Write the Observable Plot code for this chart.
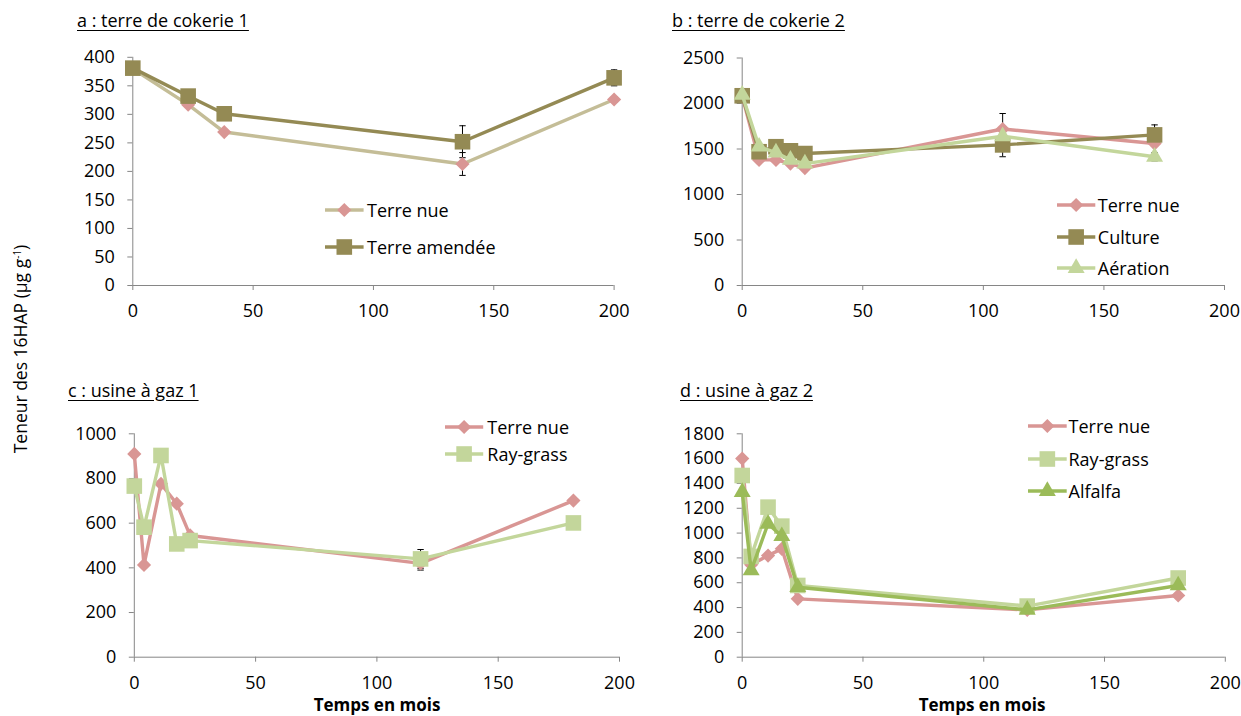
<!DOCTYPE html>
<html><head><meta charset="utf-8">
<script src="https://cdn.jsdelivr.net/npm/d3@7"></script>
<script src="https://cdn.jsdelivr.net/npm/@observablehq/plot@0.6"></script>
<style>
body{margin:0;background:#fff;font-family:"Open Sans",sans-serif;}
#root{position:relative;width:1241px;height:716px;overflow:hidden;background:#fff;}
.abs{position:absolute;white-space:nowrap;}
.title{font-size:18px;line-height:18px;text-decoration:underline;text-underline-offset:3px;color:#000;}
.xlab{font-size:17px;font-weight:bold;line-height:20px;color:#000;transform:translateX(-50%);}
.ylab{font-size:17.5px;line-height:20px;color:#000;transform:translate(-50%,-50%) rotate(-90deg);}
.leg{display:flex;align-items:center;height:20px;font-size:18px;line-height:20px;color:#000;}
.leg svg{display:block;}
svg.plot{overflow:visible;}
</style></head>
<body><div id="root"></div>
<script>
// ---------- data ----------
const xTicks = [0, 50, 100, 150, 200];

// a : terre de cokerie 1
const monthsA = [0, 23, 38, 137, 200];
const aTerreNue = [380, 317, 269, 213, 326];
const aTerreAmendee = [381, 332, 301, 252, 364];
const aErrTerreNue = [0, 0, 0, 20, 5];
const aErrTerreAmendee = [0, 0, 0, 28, 14];
const yTicksA = [0, 50, 100, 150, 200, 250, 300, 350, 400];

// b : terre de cokerie 2
const monthsB = [0, 7, 14, 20, 26, 108, 171];
const bTerreNue = [2080, 1380, 1380, 1340, 1290, 1720, 1560];
const bCulture = [2085, 1470, 1525, 1480, 1450, 1545, 1655];
const bAeration = [2095, 1525, 1460, 1380, 1340, 1640, 1415];
const bErrTerreNue = [0, 0, 0, 0, 0, 170, 0];
const bErrCulture = [0, 0, 0, 0, 0, 130, 110];
const bErrAeration = [0, 0, 0, 0, 0, 0, 45];
const yTicksB = [0, 500, 1000, 1500, 2000, 2500];

// c : usine à gaz 1
const monthsC = [0, 4, 11, 17.5, 23, 118, 181];
const cTerreNue = [910, 413, 776, 687, 545, 420, 701];
const cRayGrass = [766, 582, 903, 507, 522, 440, 601];
const cErrTerreNue = [0, 0, 0, 0, 0, 30, 0];
const cErrRayGrass = [0, 0, 0, 0, 0, 42, 0];
const yTicksC = [0, 200, 400, 600, 800, 1000];

// d : usine à gaz 2
const monthsD = [0, 3.7, 10.7, 16.4, 23, 118, 180.5];
const dTerreNue = [1600, 745, 819, 873, 470, 381, 497];
const dRayGrass = [1464, 812, 1209, 1056, 578, 412, 638];
const dAlfalfa = [1330, 699, 1075, 975, 564, 381, 578];
const yTicksD = [0, 200, 400, 600, 800, 1000, 1200, 1400, 1600, 1800];

const titles = ["a : terre de cokerie 1", "b : terre de cokerie 2", "c : usine à gaz 1", "d : usine à gaz 2"];
const xTitle = "Temps en mois";

// ---------- styles ----------
const axisGray = "#868686";
const PINK = "#D99694", OLIVE = "#948A54", TAN = "#C4BD97", LGREEN = "#C3D69B", GREEN = "#9BBB59";
const SYM = {
  diamond: {plot: "diamond2", d3: d3.symbolDiamond2, r: 6.4},
  square: {plot: "square", d3: d3.symbolSquare, r: 8.8},
  triangle: {plot: "triangle", d3: d3.symbolTriangle, r: 6.3}
};
const capSymbol = {draw(ctx, size) { const w = Math.sqrt(size); ctx.moveTo(-w / 2, 0); ctx.lineTo(w / 2, 0); }};

function rows(months, values, errs) {
  return months.map((m, i) => ({m, v: values[i], e: errs ? errs[i] : 0}));
}

const root = document.getElementById("root");

function panel(cfg) {
  const {left, top, width, height, x0, x200, yTopPx, y0Px, yTicks, series} = cfg;
  const yMax = yTicks[yTicks.length - 1];
  const marks = [
    Plot.ruleY([0], {stroke: axisGray, strokeWidth: 1}),
    Plot.ruleX([0], {stroke: axisGray, strokeWidth: 1}),
    Plot.axisX(xTicks, {tickSize: 5, tickPadding: 14, stroke: axisGray, fill: "#000", tickFormat: d => String(d), label: null}),
    Plot.axisY(yTicks, {tickSize: 5, tickPadding: 13, stroke: axisGray, fill: "#000", tickFormat: d => String(d), label: null})
  ];
  // error bars (behind series)
  for (const s of series) {
    const eb = s.data.filter(d => d.e > 0);
    marks.push(Plot.ruleX(eb, {x: "m", y1: d => d.v - d.e, y2: d => d.v + d.e, stroke: "#000", strokeWidth: 1}));
    marks.push(Plot.dot(eb, {x: "m", y: d => d.v + d.e, symbol: capSymbol, r: 3.6, stroke: "#000", strokeWidth: 1, fill: "none"}));
    marks.push(Plot.dot(eb, {x: "m", y: d => d.v - d.e, symbol: capSymbol, r: 3.6, stroke: "#000", strokeWidth: 1, fill: "none"}));
  }
  for (const s of series) {
    marks.push(Plot.line(s.data, {x: "m", y: "v", stroke: s.line, strokeWidth: 3.4, strokeLinejoin: "round"}));
    marks.push(Plot.dot(s.data, {x: "m", y: "v", symbol: SYM[s.sym].plot, r: SYM[s.sym].r, fill: s.mark, stroke: "none"}));
  }
  const svg = Plot.plot({
    width, height,
    marginLeft: x0 - left, marginRight: left + width - x200,
    marginTop: yTopPx - top, marginBottom: top + height - y0Px,
    x: {domain: [0, 200]},
    y: {domain: [0, yMax]},
    style: {fontFamily: "'Open Sans', sans-serif", fontSize: "18px", background: "transparent", color: "#000"},
    marks
  });
  svg.classList.add("plot");
  svg.style.position = "absolute";
  svg.style.left = left + "px";
  svg.style.top = top + "px";
  root.appendChild(svg);
}

function text(cls, str, x, y, html) {
  const d = document.createElement("div");
  d.className = "abs " + cls;
  if (html) d.innerHTML = str; else d.textContent = str;
  d.style.left = x + "px";
  d.style.top = y + "px";
  root.appendChild(d);
  return d;
}

function legend(items, lineStart, lineEnd, textStart, ys) {
  items.forEach((s, i) => {
    const d = document.createElement("div");
    d.className = "abs leg";
    d.style.left = lineStart + "px";
    d.style.top = (ys[i] - 10) + "px";
    const w = textStart - lineStart;
    const mid = (lineEnd - lineStart) / 2;
    const size = Math.PI * SYM[s.sym].r ** 2;
    const path = d3.symbol(SYM[s.sym].d3, size)();
    d.innerHTML = `<svg width="${w}" height="20" style="overflow:visible"><line x1="0" x2="${lineEnd - lineStart}" y1="10" y2="10" stroke="${s.line}" stroke-width="3.4"/>` +
      `<path d="${path}" transform="translate(${mid},10)" fill="${s.mark}"/></svg><span>${s.name}</span>`;
    root.appendChild(d);
  });
}

// ---------- panels ----------
const seriesA = [
  {name: "Terre nue", data: rows(monthsA, aTerreNue, aErrTerreNue), line: TAN, mark: PINK, sym: "diamond"},
  {name: "Terre amendée", data: rows(monthsA, aTerreAmendee, aErrTerreAmendee), line: OLIVE, mark: OLIVE, sym: "square"}
];
const seriesB = [
  {name: "Terre nue", data: rows(monthsB, bTerreNue, bErrTerreNue), line: PINK, mark: PINK, sym: "diamond"},
  {name: "Culture", data: rows(monthsB, bCulture, bErrCulture), line: OLIVE, mark: OLIVE, sym: "square"},
  {name: "Aération", data: rows(monthsB, bAeration, bErrAeration), line: LGREEN, mark: LGREEN, sym: "triangle"}
];
const seriesC = [
  {name: "Terre nue", data: rows(monthsC, cTerreNue, cErrTerreNue), line: PINK, mark: PINK, sym: "diamond"},
  {name: "Ray-grass", data: rows(monthsC, cRayGrass, cErrRayGrass), line: LGREEN, mark: LGREEN, sym: "square"}
];
const seriesD = [
  {name: "Terre nue", data: rows(monthsD, dTerreNue), line: PINK, mark: PINK, sym: "diamond"},
  {name: "Ray-grass", data: rows(monthsD, dRayGrass), line: LGREEN, mark: LGREEN, sym: "square"},
  {name: "Alfalfa", data: rows(monthsD, dAlfalfa), line: GREEN, mark: GREEN, sym: "triangle"}
];

panel({left: 60, top: 40, width: 580, height: 290, x0: 132.3, x200: 613.6, yTopPx: 56.8, y0Px: 285, yTicks: yTicksA, series: seriesA});
panel({left: 660, top: 40, width: 580, height: 290, x0: 741.7, x200: 1224, yTopPx: 57.5, y0Px: 285, yTicks: yTicksB, series: seriesB});
panel({left: 60, top: 410, width: 580, height: 290, x0: 133.8, x200: 619, yTopPx: 433.3, y0Px: 656.7, yTicks: yTicksC, series: seriesC});
panel({left: 660, top: 410, width: 580, height: 290, x0: 741.7, x200: 1224.8, yTopPx: 433.3, y0Px: 656.7, yTicks: yTicksD, series: seriesD});

// titles
text("title", titles[0], 77, 10.5);
text("title", titles[1], 672, 10.5);
text("title", titles[2], 68, 380.5);
text("title", titles[3], 680, 380.5);

// x-axis titles
text("xlab", xTitle, 377, 695);
text("xlab", xTitle, 982, 695);

// y-axis title
text("ylab", "Teneur des 16HAP (µg g<sup style='font-size:10px;vertical-align:6px;line-height:0'>-1</sup>)", 20, 349, true);

// legends
legend(seriesA, 325, 363.6, 367, [210, 247.3]);
legend(seriesB, 1056.5, 1094.8, 1097.8, [205, 236.7, 268.3]);
legend(seriesC, 445.3, 483.5, 487.3, [426.7, 454.3]);
legend(seriesD, 1028, 1066.7, 1068.5, [426, 459.3, 491]);
</script>
</body></html>
